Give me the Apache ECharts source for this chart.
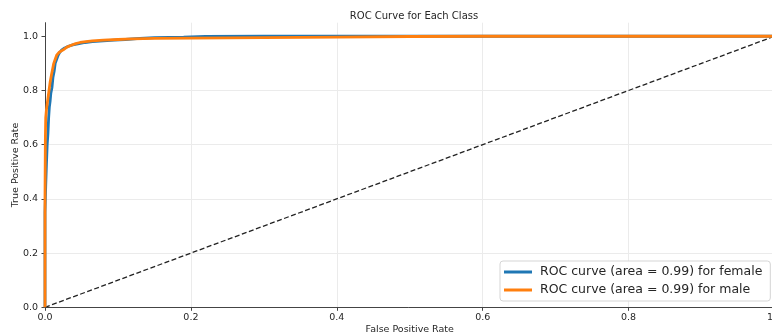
<!DOCTYPE html>
<html>
<head>
<meta charset="utf-8">
<script src="https://cdn.jsdelivr.net/npm/echarts@6/dist/echarts.min.js"></script>
<style>
html,body{margin:0;padding:0;background:#fff;}
#chart{width:772px;height:335px;}
</style>
</head>
<body>
<div id="chart"></div>
<script>
const titleText = "ROC Curve for Each Class";
const xAxisName = "False Positive Rate";
const yAxisName = "True Positive Rate";
const xTicks = [0, 0.2, 0.4, 0.6, 0.8, 1.0];
const yTicks = [0, 0.2, 0.4, 0.6, 0.8, 1.0];
const seriesNames = ["ROC curve (area = 0.99) for female", "ROC curve (area = 0.99) for male"];

const femaleFpr = [0, 0, 0.001, 0.002, 0.003, 0.004, 0.005, 0.006, 0.007, 0.008, 0.0095, 0.011, 0.0125, 0.014, 0.016, 0.018, 0.020, 0.023, 0.027, 0.032, 0.038, 0.045, 0.055, 0.065, 0.080, 0.095, 0.11, 0.13, 0.15, 0.19, 0.22, 0.30, 1.0];
const femaleTpr = [0, 0.35, 0.45, 0.53, 0.60, 0.64, 0.70, 0.74, 0.76, 0.79, 0.81, 0.85, 0.87, 0.90, 0.915, 0.93, 0.94, 0.95, 0.957, 0.963, 0.968, 0.972, 0.977, 0.980, 0.983, 0.986, 0.988, 0.992, 0.995, 0.997, 0.999, 1.0, 1.0];

const maleFpr = [0, 0, 0.0005, 0.001, 0.002, 0.003, 0.004, 0.0055, 0.007, 0.009, 0.012, 0.014, 0.016, 0.019, 0.022, 0.025, 0.030, 0.036, 0.042, 0.048, 0.056, 0.065, 0.080, 0.10, 0.12, 0.15, 0.20, 0.25, 0.30, 0.40, 0.50, 0.60, 1.0];
const maleTpr = [0, 0.40, 0.62, 0.70, 0.73, 0.75, 0.77, 0.80, 0.83, 0.86, 0.90, 0.915, 0.93, 0.94, 0.945, 0.95, 0.96, 0.967, 0.973, 0.977, 0.980, 0.983, 0.986, 0.988, 0.990, 0.992, 0.993, 0.994, 0.995, 0.997, 0.999, 1.0, 1.0];

const diagX = [0, 1];
const diagY = [0, 1];

const zip = (a, b) => a.map((v, i) => [v, b[i]]);
const FONT = "DejaVu Sans";

const chart = echarts.init(document.getElementById('chart'), null, {renderer: 'canvas'});
chart.setOption({
  animation: false,
  backgroundColor: '#ffffff',
  textStyle: {fontFamily: FONT},
  title: {
    text: titleText,
    left: 409, top: 6, textAlign: 'center',
    textStyle: {fontFamily: FONT, fontSize: 10, fontWeight: 'normal', color: '#262626'}
  },
  grid: {left: 45, top: 22.7, width: 729.5, height: 284.6, containLabel: false, outerBoundsMode: 'none'},
  xAxis: {
    type: 'value', min: 0, max: 1, interval: 0.2,
    name: xAxisName, nameLocation: 'middle', nameGap: 17, nameMoveOverlap: false,
    nameTextStyle: {fontFamily: FONT, fontSize: 9.5, color: '#262626'},
    axisLine: {show: true, lineStyle: {color: '#444', width: 1}},
    axisTick: {show: true, length: 3.5, inside: false, lineStyle: {color: '#444'}},
    axisLabel: {fontFamily: FONT, fontSize: 9.5, color: '#262626', margin: 5,
      formatter: v => v.toFixed(1)},
    splitLine: {show: true, lineStyle: {color: '#ebebeb', width: 1}}
  },
  yAxis: {
    type: 'value', min: 0, max: 1.05,
    name: yAxisName, nameLocation: 'middle', nameGap: 24, nameRotate: 90, nameMoveOverlap: false,
    nameTextStyle: {fontFamily: FONT, fontSize: 9.5, color: '#262626'},
    axisLine: {show: true, lineStyle: {color: '#444', width: 1}},
    axisTick: {show: true, length: 3.5, inside: false, lineStyle: {color: '#444'}, customValues: yTicks},
    axisLabel: {fontFamily: FONT, fontSize: 9.5, color: '#262626', margin: 7,
      customValues: yTicks, formatter: v => v.toFixed(1)},
    splitLine: {show: true, showMaxLine: false, lineStyle: {color: '#ebebeb', width: 1}}
  },
  legend: {
    data: seriesNames,
    orient: 'vertical',
    left: 500, top: 261,
    padding: [4, 8, 4, 4],
    itemGap: 4,
    itemWidth: 28, itemHeight: 3,
    icon: 'rect',
    backgroundColor: 'rgba(255,255,255,0.9)',
    borderColor: '#d5d5d5', borderWidth: 1, borderRadius: 3,
    textStyle: {fontFamily: FONT, fontSize: 12.5, color: '#262626', lineHeight: 14, padding: [0, 0, 0, 3]}
  },
  series: [
    {
      name: seriesNames[0], type: 'line', data: zip(femaleFpr, femaleTpr),
      showSymbol: false, symbol: 'none', color: '#1f77b4',
      lineStyle: {color: '#1f77b4', width: 2.8}, z: 3
    },
    {
      name: seriesNames[1], type: 'line', data: zip(maleFpr, maleTpr),
      showSymbol: false, symbol: 'none', color: '#ff7f0e',
      lineStyle: {color: '#ff7f0e', width: 2.8}, z: 4
    },
    {
      name: 'diagonal', type: 'line', data: zip(diagX, diagY),
      showSymbol: false, symbol: 'none', color: '#222',
      lineStyle: {color: '#222', width: 1.3, type: [5, 2.5]}, z: 2
    }
  ]
});
</script>
</body>
</html>
